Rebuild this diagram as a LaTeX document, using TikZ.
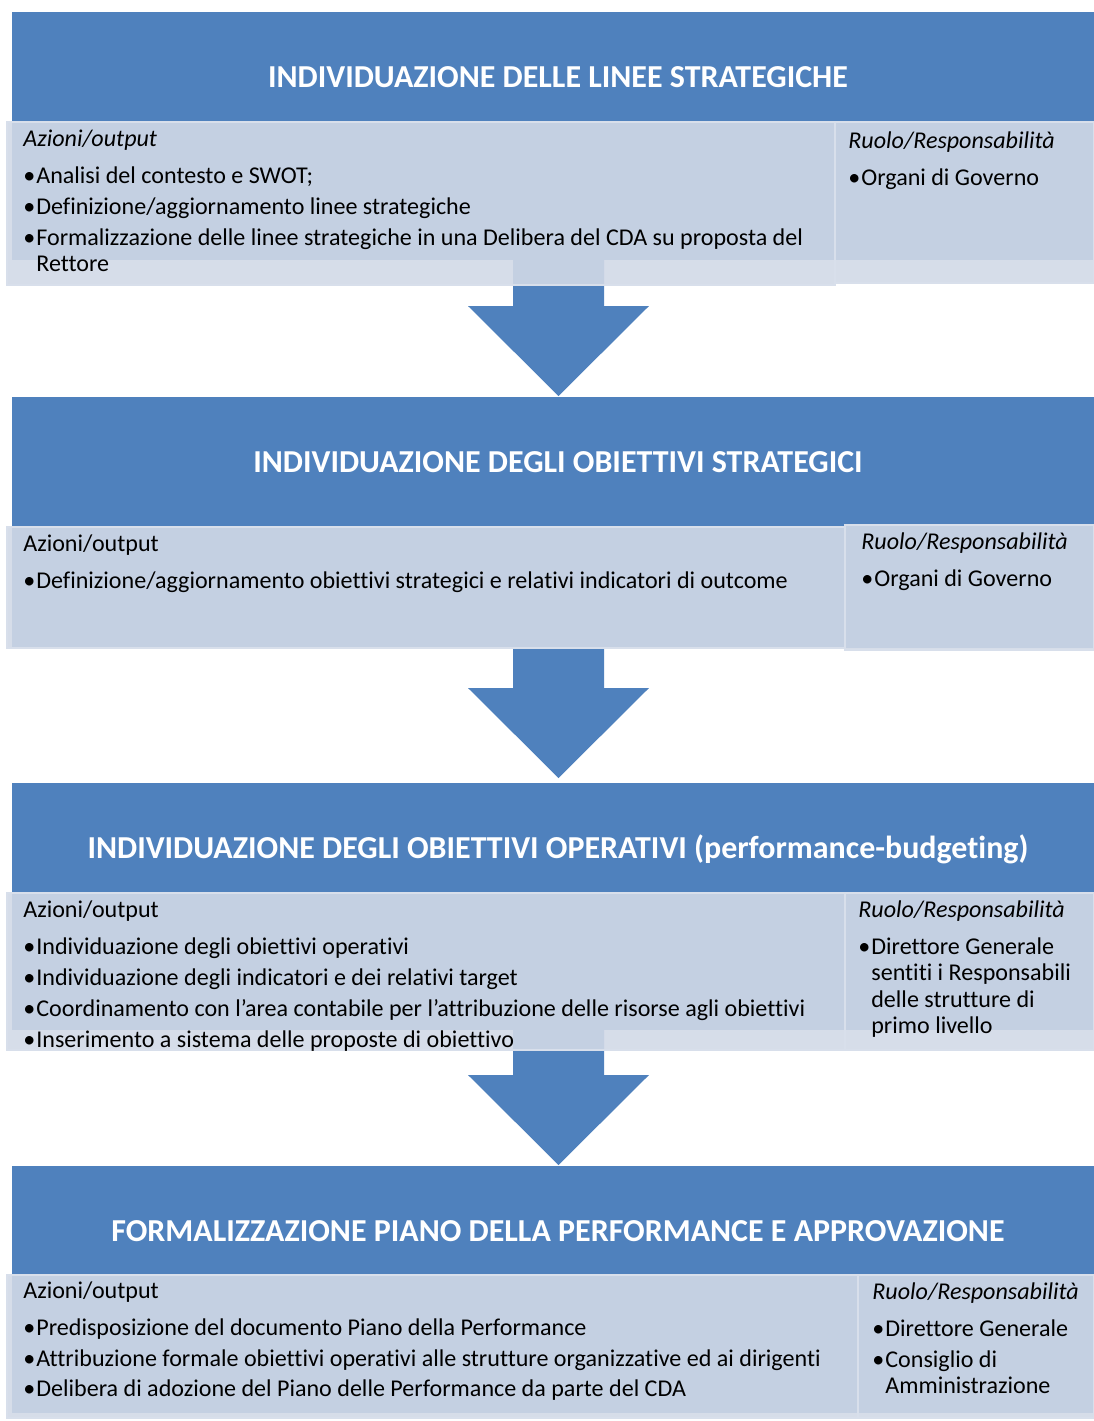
\documentclass[tikz,border=0pt]{standalone}
\usepackage{fontspec}
\setmainfont[Ligatures=NoCommon]{Carlito}
\usetikzlibrary{positioning}
\definecolor{hdrblue}{RGB}{79,129,189}
\definecolor{pnlfill}{RGB}{209,217,231}
\definecolor{pnlline}{RGB}{216,223,235}
\newcommand{\itm}{\makebox[7.4pt][l]{\textbullet}}

\begin{document}
\begin{tikzpicture}[x=0.02cm,y=-0.02cm,
  hdr/.style={fill=hdrblue},
  pnl/.style={fill=pnlfill,fill opacity=0.9,draw=pnlline,line width=1.2pt},
  ttl/.style={anchor=base,text=white,inner sep=0,font=\fontsize{18.2}{22}\selectfont\bfseries},
  txt/.style={anchor=base west,inner sep=0,font=\fontsize{13.7}{17}\selectfont},
  hd/.style={txt,font=\fontsize{13.7}{17}\selectfont\itshape}]
\useasboundingbox (0,0) rectangle (1094,1421);
%Headers
\fill[hdr] (12,12) rectangle (1094,260);
\fill[hdr] (12,397) rectangle (1094,648);
\fill[hdr] (12,783) rectangle (1094,1030);
\fill[hdr] (12,1166) rectangle (1094,1413);
%Arrows
\fill[hdr] (513,260) -- (604,260) -- (604,306) -- (649,306) -- (558.5,396) -- (468,306) -- (513,306) -- cycle;
\fill[hdr] (513,648) -- (604,648) -- (604,688) -- (649,688) -- (558.5,778) -- (468,688) -- (513,688) -- cycle;
\fill[hdr] (513,1030) -- (604,1030) -- (604,1075) -- (649,1075) -- (558.5,1165) -- (468,1075) -- (513,1075) -- cycle;
%Panels
\filldraw[pnl] (7,122) rectangle (835,285);
\filldraw[pnl] (835,122) rectangle (1094,283);
\filldraw[pnl] (7,527) rectangle (845,648);
\filldraw[pnl] (845,525) rectangle (1094,650);
\filldraw[pnl] (7,893) rectangle (845,1050);
\filldraw[pnl] (845,893) rectangle (1094,1050);
\filldraw[pnl] (7,1275) rectangle (858,1418);
\filldraw[pnl] (858,1275) rectangle (1094,1418);

%Titles
\node[ttl] (t1) at (558,87) {INDIVIDUAZIONE DELLE LINEE STRATEGICHE};
\node[ttl] (t2) at (558,472) {INDIVIDUAZIONE DEGLI OBIETTIVI STRATEGICI};
\node[ttl] (t3) at (558,858) {INDIVIDUAZIONE DEGLI OBIETTIVI OPERATIVI (performance-budgeting)};
\node[ttl] (t4) at (558,1241) {FORMALIZZAZIONE PIANO DELLA PERFORMANCE E APPROVAZIONE};

%Step 1
\node[hd] (a1) at (23,146) {Azioni/output};
\node[txt] (a1x) at (23,183) {\itm Analisi del contesto e SWOT;};
\node[txt] (a1y) at (23,214) {\itm Definizione/aggiornamento linee strategiche};
\node[txt] (a1z) at (23,245) {\itm Formalizzazione delle linee strategiche in una Delibera del CDA su proposta del};
\node[txt] (a1w) at (36,271) {Rettore};
\node[hd] (r1) at (848,148) {Ruolo/Responsabilità};
\node[txt] (r1x) at (848,185) {\itm Organi di Governo};

%Step 2
\node[txt] (a2) at (23,551) {Azioni/output};
\node[txt] (a2x) at (23,588) {\itm Definizione/aggiornamento obiettivi strategici e relativi indicatori di outcome};
\node[hd] (r2) at (861,549) {Ruolo/Responsabilità};
\node[txt] (r2x) at (861,586) {\itm Organi di Governo};

%Step 3
\node[txt] (a3) at (23,917) {Azioni/output};
\node[txt] (a3x) at (23,954) {\itm Individuazione degli obiettivi operativi};
\node[txt] (a3y) at (23,985) {\itm Individuazione degli indicatori e dei relativi target};
\node[txt] (a3z) at (23,1016) {\itm Coordinamento con l’area contabile per l’attribuzione delle risorse agli obiettivi};
\node[txt] (a3w) at (23,1047) {\itm Inserimento a sistema delle proposte di obiettivo};
\node[hd] (r3) at (858,917) {Ruolo/Responsabilità};
\node[txt] (r3x) at (858,954) {\itm Direttore Generale};
\node[txt] (r3y) at (871,980) {sentiti i Responsabili};
\node[txt] (r3z) at (871,1007) {delle strutture di};
\node[txt] (r3w) at (871,1033) {primo livello};

%Step 4
\node[txt] (a4) at (23,1298) {Azioni/output};
\node[txt] (a4x) at (23,1335) {\itm Predisposizione del documento Piano della Performance};
\node[txt] (a4y) at (23,1366) {\itm Attribuzione formale obiettivi operativi alle strutture organizzative ed ai dirigenti};
\node[txt] (a4z) at (23,1396) {\itm Delibera di adozione del Piano delle Performance da parte del CDA};
\node[hd] (r4) at (872,1299) {Ruolo/Responsabilità};
\node[txt] (r4x) at (872,1336) {\itm Direttore Generale};
\node[txt] (r4y) at (872,1367) {\itm Consiglio di};
\node[txt] (r4z) at (885,1393) {Amministrazione};
\end{tikzpicture}
\end{document}
